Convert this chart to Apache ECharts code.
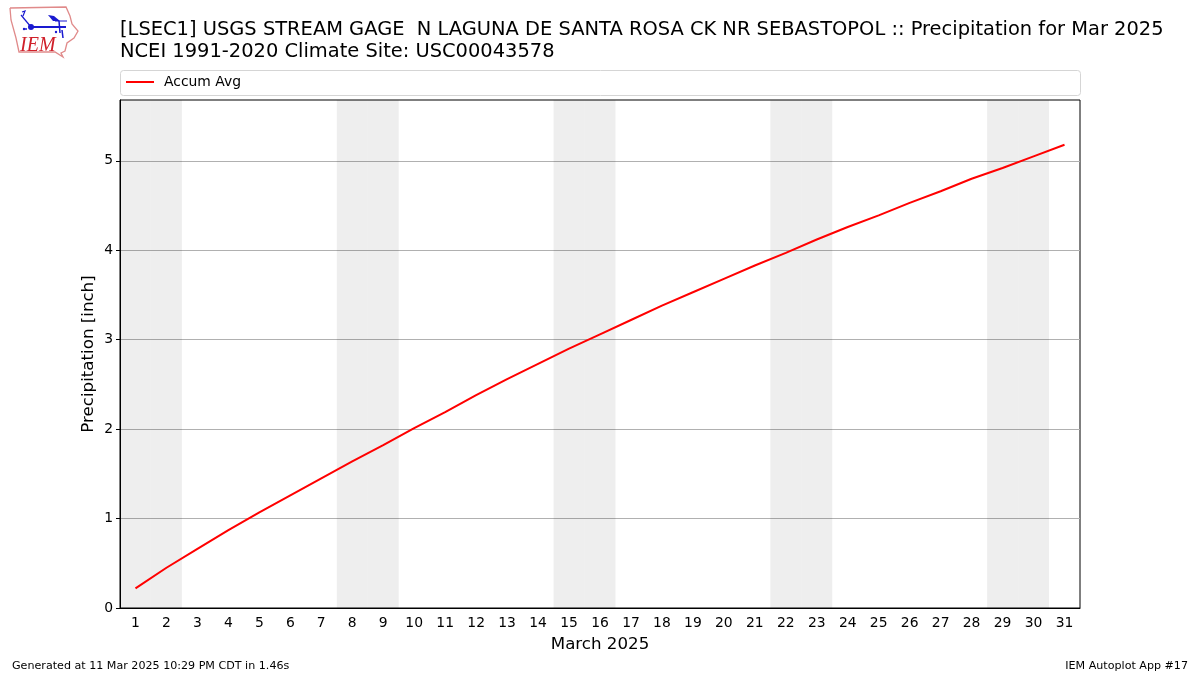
<!DOCTYPE html>
<html>
<head>
<meta charset="utf-8">
<style>
    html, body { margin: 0; padding: 0; background: #fff; }
    #chart { width: 1200px; height: 675px; }
</style>
<script src="https://cdn.jsdelivr.net/npm/echarts@6/dist/echarts.min.js"></script>
</head>
<body>
<div id="chart"></div>
<script>
    const days = ['1','2','3','4','5','6','7','8','9','10','11','12','13','14','15','16','17','18','19','20','21','22','23','24','25','26','27','28','29','30','31']
    const accumAvg = [0.22,0.45,0.66,0.87,1.07,1.26,1.45,1.64,1.82,2.01,2.19,2.38,2.56,2.73,2.90,3.06,3.22,3.38,3.53,3.68,3.83,3.97,4.12,4.26,4.39,4.53,4.66,4.80,4.92,5.05,5.18]
    const weekendDays = ['1','2','8','9','15','16','22','23','29','30']
    const yTicks = [0,1,2,3,4,5]
    const yMax = 5.68
    const fontFamily = '"DejaVu Sans", sans-serif'

    // weekend shading is a full height bar on each weekend day
    const weekendBars = days.map(d => weekendDays.includes(d) ? yMax : null)

    const chart = echarts.init(document.getElementById('chart'), null, { renderer: 'canvas' })

    // IEM logo, drawn roughly by hand
    const logo = [
        { type: 'polyline', shape: { points: [[10,8],[66,7],[70,16],[72,24],[78,31],[74,38],[67,43],[65,51],[61,53],[63,57],[55,52],[19,52],[16,38],[11,20],[10,8]] }, style: { stroke: '#e08a8a', lineWidth: 1.3, fill: null } },
        { type: 'polyline', shape: { points: [[31,27],[66,27]] }, style: { stroke: '#1a1ad0', lineWidth: 2, fill: null } },
        { type: 'polyline', shape: { points: [[21,15],[31,27]] }, style: { stroke: '#1a1ad0', lineWidth: 1.2, fill: null } },
        { type: 'polyline', shape: { points: [[22,12],[25,11],[23,16]] }, style: { stroke: '#1a1ad0', lineWidth: 1.2, fill: null } },
        { type: 'circle', shape: { cx: 31, cy: 27, r: 3 }, style: { fill: '#1a1ad0' } },
        { type: 'polygon', shape: { points: [[48,15],[54,16],[60,21],[53,21]] }, style: { fill: '#1a1ad0' } },
        { type: 'polyline', shape: { points: [[55,21],[67,21]] }, style: { stroke: '#1a1ad0', lineWidth: 1, fill: null } },
        { type: 'polyline', shape: { points: [[59,21],[60,33]] }, style: { stroke: '#1a1ad0', lineWidth: 1.5, fill: null } },
        { type: 'polyline', shape: { points: [[62,30],[63,38]] }, style: { stroke: '#1a1ad0', lineWidth: 1.5, fill: null } },
        { type: 'circle', shape: { cx: 56, cy: 32, r: 1.2 }, style: { fill: '#1a1ad0' } },
        { type: 'circle', shape: { cx: 24, cy: 29, r: 1.2 }, style: { fill: '#1a1ad0' } },
        { type: 'circle', shape: { cx: 26, cy: 29, r: 1 }, style: { fill: '#1a1ad0' } },
        { type: 'text', style: { x: 20, y: 36, text: 'IEM', fill: '#d0202a', font: 'italic 20px "Liberation Serif", serif' } }
    ]

    chart.setOption({
        animation: false,
        backgroundColor: '#fff',
        textStyle: { fontFamily: fontFamily },
        title: {
            text: '[LSEC1] USGS STREAM GAGE  N LAGUNA DE SANTA ROSA CK NR SEBASTOPOL :: Precipitation for Mar 2025\nNCEI 1991-2020 Climate Site: USC00043578',
            left: 120,
            top: 19,
            padding: 0,
            textStyle: { fontFamily: fontFamily, fontSize: 19.44, fontWeight: 'normal', color: '#000', lineHeight: 22 }
        },
        legend: {
            data: [{ name: 'Accum Avg', icon: 'rect' }],
            left: 126,
            top: 75,
            padding: 0,
            itemWidth: 28,
            itemHeight: 2,
            itemGap: 0,
            textStyle: { fontFamily: fontFamily, fontSize: 13.9, color: '#000', padding: [0, 0, 0, 5] }
        },
        grid: { left: 120, right: 120, top: 100, bottom: 67, show: true, borderColor: '#000', borderWidth: 1, backgroundColor: 'transparent' },
        xAxis: {
            type: 'category',
            data: days,
            boundaryGap: true,
            name: 'March 2025',
            nameLocation: 'middle',
            nameGap: 28,
            nameTextStyle: { fontFamily: fontFamily, fontSize: 16.67, color: '#000' },
            axisLine: { lineStyle: { color: '#000', width: 1 } },
            axisTick: { alignWithLabel: true, length: 4, lineStyle: { color: '#000' } },
            axisLabel: { interval: 0, color: '#000', fontSize: 13.9, margin: 8 },
            splitLine: { show: false }
        },
        yAxis: {
            type: 'value',
            min: 0,
            max: yMax,
            name: 'Precipitation [inch]',
            nameLocation: 'middle',
            nameGap: 23,
            nameMoveOverlap: false,
            nameTextStyle: { fontFamily: fontFamily, fontSize: 16.67, color: '#000' },
            axisLine: { show: true, lineStyle: { color: '#000', width: 1 } },
            axisTick: { show: true, length: 4, lineStyle: { color: '#000' }, customValues: yTicks },
            axisLabel: { color: '#000', fontSize: 13.9, margin: 7, customValues: yTicks },
            splitLine: { show: true, lineStyle: { color: '#b0b0b0', width: 1 } }
        },
        series: [
            {
                name: 'weekend',
                type: 'bar',
                data: weekendBars,
                barWidth: '100%',
                silent: true,
                itemStyle: { color: 'rgba(0,0,0,0.067)' }
            },
            {
                name: 'Accum Avg',
                type: 'line',
                data: accumAvg,
                symbol: 'none',
                lineStyle: { color: '#ff0000', width: 2 },
                itemStyle: { color: '#ff0000' }
            }
        ],
        graphic: [
            { type: 'rect', z: -1, shape: { x: 120.5, y: 70.5, width: 960, height: 25, r: 3 }, style: { fill: '#fff', stroke: '#d5d5d5', lineWidth: 1 } },
            { type: 'text', left: 12, top: 661, style: { text: 'Generated at 11 Mar 2025 10:29 PM CDT in 1.46s', fill: '#000', font: '11.11px "DejaVu Sans", sans-serif' } },
            { type: 'text', right: 12, top: 661, style: { text: 'IEM Autoplot App #17', fill: '#000', font: '11.11px "DejaVu Sans", sans-serif' } },
            { type: 'group', left: 0, top: 0, bounding: 'raw', children: logo }
        ]
    })
</script>
</body>
</html>
